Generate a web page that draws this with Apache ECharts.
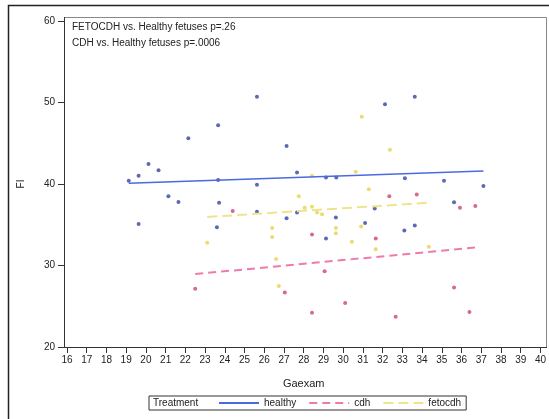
<!DOCTYPE html>
<html>
<head>
<meta charset="utf-8">
<script src="https://cdn.jsdelivr.net/npm/echarts@6/dist/echarts.min.js"></script>
<style>
  html, body { margin: 0; padding: 0; background: #fff; }
  #chart { width: 549px; height: 419px; }
</style>
</head>
<body>
<div id="chart"></div>
<script>
// points: [Gaexam, FI]
const healthyPts = [
  [19.13, 40.4], [19.63, 41.0], [19.63, 35.1], [20.13, 42.45], [20.64, 41.7],
  [21.14, 38.5], [21.65, 37.8], [22.15, 45.6], [23.66, 47.2], [23.66, 40.5],
  [23.71, 37.7], [23.6, 34.7], [25.63, 50.7], [25.63, 39.9], [25.63, 36.6],
  [27.13, 44.66], [27.66, 41.4], [27.13, 35.8], [27.66, 36.5], [29.13, 40.8],
  [29.65, 40.8], [29.63, 35.9], [29.13, 33.3], [31.11, 35.2], [31.6, 37.0],
  [32.12, 49.8], [33.13, 40.7], [33.63, 50.7], [33.1, 34.3], [33.63, 34.9],
  [35.11, 40.4], [35.62, 37.75], [37.11, 39.75]
];
const cdhPts = [
  [22.5, 27.15], [24.4, 36.7], [27.04, 26.7], [28.42, 33.8], [28.42, 24.2],
  [29.06, 29.3], [30.1, 25.4], [31.65, 33.3], [32.34, 38.5], [32.66, 23.7],
  [33.73, 38.7], [35.62, 27.3], [35.92, 37.1], [36.4, 24.3], [36.7, 37.3]
];
const fetoPts = [
  [23.11, 32.8], [26.4, 34.6], [26.4, 33.5], [26.6, 30.8], [26.74, 27.5],
  [27.75, 38.5], [28.05, 37.1], [28.42, 37.2], [28.42, 41.0], [28.68, 36.5],
  [28.93, 36.3], [29.63, 34.6], [29.63, 33.95], [30.44, 32.9], [30.64, 41.5],
  [30.91, 34.8], [30.94, 48.26], [31.3, 39.35], [31.65, 32.0], [32.37, 44.2],
  [34.34, 32.3]
];
// fitted lines (end points)
const healthyFit = [[19.13, 40.1], [37.11, 41.6]];
const cdhFit = [[22.5, 28.95], [36.7, 32.2]];
const fetoFit = [[23.11, 35.95], [34.34, 37.7]];

const groups = ['healthy', 'cdh', 'fetocdh'];
const notes = ['FETOCDH vs. Healthy fetuses p=.26', 'CDH vs. Healthy fetuses p=.0006'];

const font = 'Liberation Sans, Arial, sans-serif';
const chart = echarts.init(document.getElementById('chart'), null, { renderer: 'canvas' });

chart.setOption({
  animation: false,
  textStyle: { fontFamily: font },
  grid: { left: 67, right: 6, top: 21, bottom: 72, show: false },
  title: {
    text: notes.join('\n'),
    left: 67, top: 14,
    textStyle: { fontSize: 10, fontWeight: 'normal', color: '#222', lineHeight: 16, fontFamily: font }
  },
  xAxis: {
    type: 'value', min: 16, max: 40, interval: 1,
    name: 'Gaexam', nameLocation: 'middle', nameGap: 31,
    nameTextStyle: { fontSize: 11, color: '#222', fontFamily: font },
    axisLine: { show: false },
    axisTick: { show: true, length: 6, lineStyle: { color: '#333' } },
    axisLabel: { fontSize: 10, color: '#222', margin: 8, fontFamily: font },
    splitLine: { show: false }
  },
  yAxis: {
    type: 'value', min: 20, max: 60, interval: 10, offset: 3,
    name: 'FI', nameLocation: 'middle', nameGap: 38,
    nameTextStyle: { fontSize: 10, color: '#222', fontFamily: font },
    axisLine: { show: false },
    axisTick: { show: true, length: 6, lineStyle: { color: '#333' } },
    axisLabel: { fontSize: 10, color: '#222', margin: 9, fontFamily: font },
    splitLine: { show: false }
  },
  legend: {
    data: groups,
    left: 149, top: 396,
    padding: [2, 5, 2, 69],
    itemGap: 12, itemWidth: 40, itemHeight: 10,
    itemStyle: { opacity: 0 },
    borderColor: '#333', borderWidth: 1,
    textStyle: { fontSize: 10, color: '#222', fontFamily: font }
  },
  graphic: [
    { type: 'rect', silent: true, shape: { x: 8.5, y: 5.5, width: 600, height: 420 },
      style: { fill: null, stroke: '#222', lineWidth: 1.5 } },
    { type: 'rect', silent: true, shape: { x: 64.5, y: 17.5, width: 482, height: 330 },
      style: { fill: null, stroke: '#888', lineWidth: 1 } },
    { type: 'line', silent: true, shape: { x1: 64.5, y1: 17, x2: 64.5, y2: 347.5 },
      style: { stroke: '#333', lineWidth: 1 } },
    { type: 'line', silent: true, shape: { x1: 64, y1: 347.5, x2: 547, y2: 347.5 },
      style: { stroke: '#333', lineWidth: 1 } },
    { type: 'text', silent: true, left: 153, top: 398,
      style: { text: 'Treatment', fontSize: 10, fill: '#222', font: '10px ' + font } }
  ],
  series: [
    { name: 'healthy', type: 'line', data: healthyFit, symbol: 'none',
      lineStyle: { color: '#4a6ae0', width: 1.5 }, itemStyle: { color: '#4a6ae0' } },
    { name: 'cdh', type: 'line', data: cdhFit, symbol: 'none',
      lineStyle: { color: '#f07aae', width: 2, type: [8, 5] }, itemStyle: { color: '#f07aae' } },
    { name: 'fetocdh', type: 'line', data: fetoFit, symbol: 'none',
      lineStyle: { color: '#efe48e', width: 2, type: [10, 5] }, itemStyle: { color: '#efe48e' } },
    { name: 'healthy points', type: 'scatter', data: healthyPts, symbolSize: 4,
      itemStyle: { color: '#34439f' } },
    { name: 'cdh points', type: 'scatter', data: cdhPts, symbolSize: 4,
      itemStyle: { color: '#cc4474' } },
    { name: 'fetocdh points', type: 'scatter', data: fetoPts, symbolSize: 4,
      itemStyle: { color: '#e6d24e' } }
  ]
});
</script>
</body>
</html>
